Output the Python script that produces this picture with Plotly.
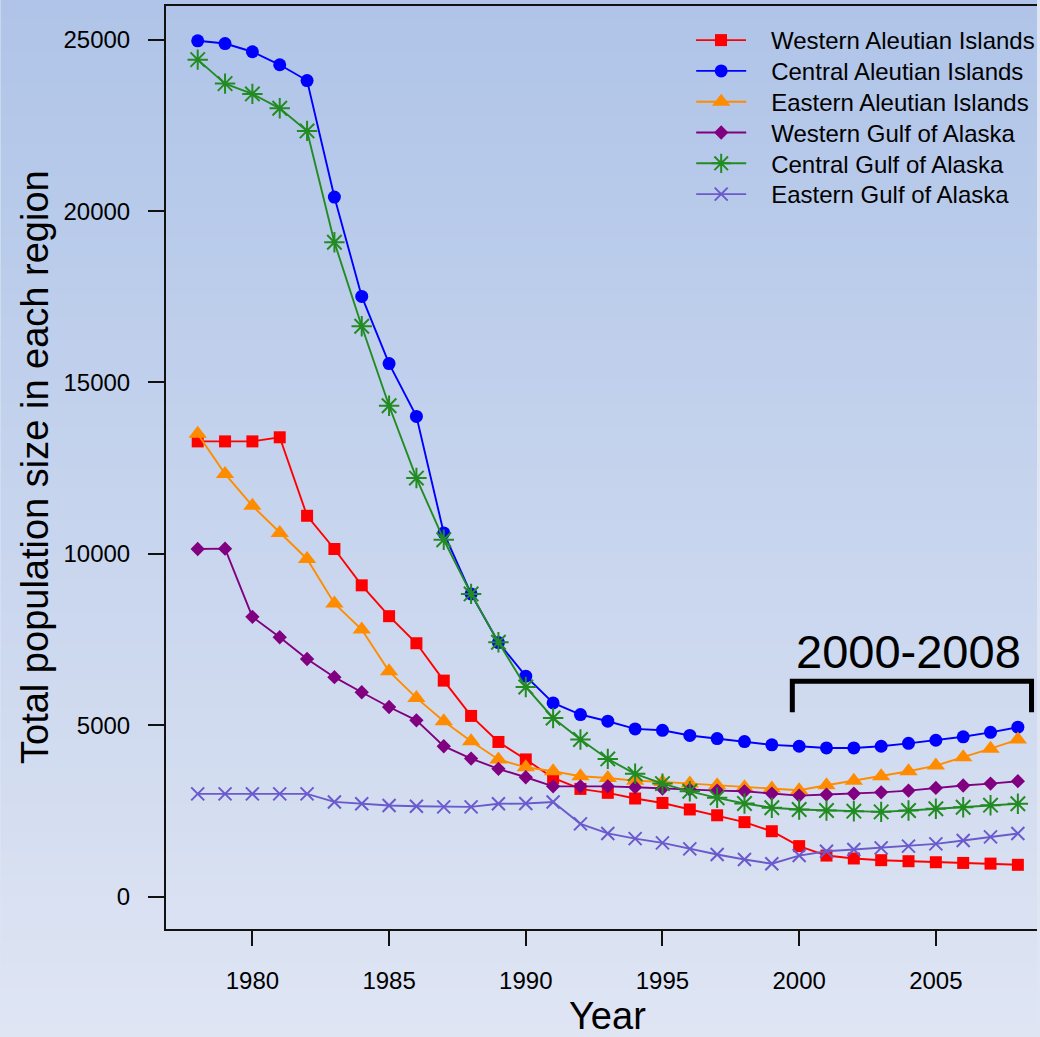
import base64
import struct
import zlib

import plotly.graph_objects as go

# ---- data -------------------------------------------------------------
years = list(range(1978, 2009))

western_aleutian = [13280, 13280, 13280, 13400, 11110, 10140, 9080, 8180, 7390, 6300,
                    5270, 4510, 4000, 3460, 3140, 3025, 2860, 2730, 2540, 2370,
                    2170, 1905, 1470, 1195, 1110, 1060, 1030, 1000, 980, 960, 925]
central_aleutian = [24970, 24890, 24650, 24270, 23810, 20410, 17510, 15550, 14010, 10610,
                    8830, 7410, 6430, 5650, 5310, 5115, 4890, 4850, 4700, 4610,
                    4520, 4425, 4385, 4335, 4335, 4385, 4470, 4560, 4660, 4790, 4940]
eastern_aleutian = [13500, 12330, 11400, 10610, 9850, 8550, 7790, 6570, 5795, 5115,
                    4530, 4000, 3770, 3655, 3510, 3460, 3380, 3345, 3295, 3245,
                    3190, 3150, 3100, 3245, 3380, 3510, 3655, 3820, 4060, 4315, 4580]
western_gulf = [10140, 10150, 8160, 7565, 6930, 6400, 5960, 5530, 5140, 4385,
                4025, 3725, 3480, 3215, 3215, 3215, 3190, 3150, 3120, 3090,
                3070, 3005, 2945, 2975, 3005, 3040, 3090, 3170, 3240, 3295, 3365]
central_gulf = [24420, 23720, 23420, 23000, 22340, 19090, 16640, 14320, 12210, 10410,
                8830, 7420, 6115, 5210, 4580, 4015, 3580, 3295, 3070, 2880,
                2715, 2590, 2540, 2510, 2490, 2470, 2510, 2560, 2605, 2665, 2705]
eastern_gulf = [2995, 2995, 2995, 2995, 2995, 2760, 2705, 2655, 2635, 2615,
                2615, 2705, 2715, 2760, 2120, 1840, 1690, 1565, 1390, 1225,
                1080, 955, 1195, 1320, 1370, 1420, 1470, 1535, 1635, 1740, 1840]

region_names = ["Western Aleutian Islands", "Central Aleutian Islands",
                "Eastern Aleutian Islands", "Western Gulf of Alaska",
                "Central Gulf of Alaska", "Eastern Gulf of Alaska"]
region_values = [western_aleutian, central_aleutian, eastern_aleutian,
                 western_gulf, central_gulf, eastern_gulf]

x_ticks = [1980, 1985, 1990, 1995, 2000, 2005]
y_ticks = [0, 5000, 10000, 15000, 20000, 25000]
y_tick_labels = ["0", "5000", "10000", "15000", "20000", "25000"]
period = (2000, 2008)
period_label = "2000-2008"

# ---- styling ----------------------------------------------------------
colors = ["#FF0000", "#0000FF", "#FF8C00", "#800080", "#228B22", "#6A5ACD"]
symbols = ["square", "circle", "triangle-up", "diamond", "asterisk-open", "x-thin-open"]
sizes = [12, 13, 16, 11, 17, 13]

FONT = "Liberation Sans, Arial, Helvetica, sans-serif"
W, H = 1040, 1037
ML, MR, MT, MB = 166, 0, 6, 108
PW, PH = W - ML - MR, H - MT - MB

# legend rows (pixel centres from the top of the page)
LEGEND_X = 693
LEGEND_ROW0 = 41
LEGEND_STEP = 30.8
LEGEND_PAD = "\u00a0\u00a0\u00a0"


def gradient_png(top, bottom, n=256):
    """Vertical colour ramp as a 1-pixel-wide PNG data URI."""
    raw = b""
    for i in range(n):
        t = i / (n - 1)
        raw += b"\x00" + bytes(round(a + (b - a) * t) for a, b in zip(top, bottom))

    def chunk(tag, data):
        return (struct.pack(">I", len(data)) + tag + data
                + struct.pack(">I", zlib.crc32(tag + data) & 0xFFFFFFFF))

    png = (b"\x89PNG\r\n\x1a\n"
           + chunk(b"IHDR", struct.pack(">IIBBBBB", 1, n, 8, 2, 0, 0, 0))
           + chunk(b"IDAT", zlib.compress(raw))
           + chunk(b"IEND", b""))
    return "data:image/png;base64," + base64.b64encode(png).decode()


fig = go.Figure()
legend_layouts = {}
for i, (name, vals, c, sym, sz) in enumerate(
        zip(region_names, region_values, colors, symbols, sizes)):
    open_marker = sym.endswith("-open")
    legend_id = "legend" if i == 0 else f"legend{i + 1}"
    fig.add_trace(go.Scatter(
        x=years, y=vals, name=LEGEND_PAD + name, mode="lines+markers",
        legend=legend_id,
        line=dict(color=c, width=1.9),
        marker=dict(symbol=sym, size=sz, color=c,
                    line=dict(color=c, width=2 if open_marker else 0)),
    ))
    row_y = LEGEND_ROW0 + i * LEGEND_STEP
    legend_layouts[legend_id] = dict(
        x=(LEGEND_X - ML) / PW, y=1 - (row_y - 23 - MT) / PH,
        xanchor="left", yanchor="top",
        bgcolor="rgba(0,0,0,0)", borderwidth=0, itemwidth=50,
        font=dict(family=FONT, size=24, color="black"))

# bracket over the 2000-2008 period
bx0, bx1 = period[0] - 0.25, period[1] + 0.5
by_top, by_bot = 6280, 5380
fig.add_shape(type="path",
              path=f"M {bx0},{by_bot} L {bx0},{by_top} L {bx1},{by_top} L {bx1},{by_bot}",
              xref="x", yref="y", line=dict(color="black", width=5))
fig.add_annotation(x=(period[0] + period[1]) / 2, y=7150, xref="x", yref="y",
                   text=period_label, showarrow=False, xanchor="center", yanchor="middle",
                   font=dict(family=FONT, size=47, color="black"))

# axis titles
fig.add_annotation(x=(609.5 - ML) / PW, y=(H - MB - 1016) / PH, xref="paper", yref="paper",
                   text="Year", showarrow=False, xanchor="center", yanchor="middle",
                   font=dict(family=FONT, size=38, color="black"))
fig.add_annotation(x=(34 - ML) / PW, y=(H - MB - 466.5) / PH, xref="paper", yref="paper",
                   text="Total population size in each region", textangle=-90,
                   showarrow=False, xanchor="center", yanchor="middle",
                   font=dict(family=FONT, size=38, color="black"))

fig.update_layout(
    width=W, height=H,
    margin=dict(l=ML, r=MR, t=MT, b=MB),
    paper_bgcolor="#DFE5F3",
    plot_bgcolor="rgba(0,0,0,0)",
    font=dict(family=FONT, color="black"),
    images=[dict(source=gradient_png((175, 196, 232), (223, 229, 243)),
                 xref="paper", yref="paper", x=-ML / PW, y=1 + MT / PH,
                 sizex=W / PW, sizey=H / PH, xanchor="left", yanchor="top",
                 sizing="stretch", layer="below")],
    showlegend=True,
    **legend_layouts,
)
fig.update_xaxes(range=[1976.84, 2008.70], tickvals=x_ticks, ticks="outside",
                 ticklen=15, tickwidth=1.5, tickcolor="#111",
                 showline=True, linewidth=2, linecolor="#111", mirror=True,
                 showgrid=False, zeroline=False,
                 tickfont=dict(family=FONT, size=24, color="black"),
                 ticklabelstandoff=14)
fig.update_yaxes(range=[-948, 25985], tickvals=y_ticks, ticktext=y_tick_labels,
                 ticks="outside", ticklen=16, tickwidth=1.5, tickcolor="#111",
                 showline=True, linewidth=2, linecolor="#111", mirror=False,
                 showgrid=False, zeroline=False,
                 tickfont=dict(family=FONT, size=24, color="black"),
                 ticklabelstandoff=13)

fig.write_html("out.html")
